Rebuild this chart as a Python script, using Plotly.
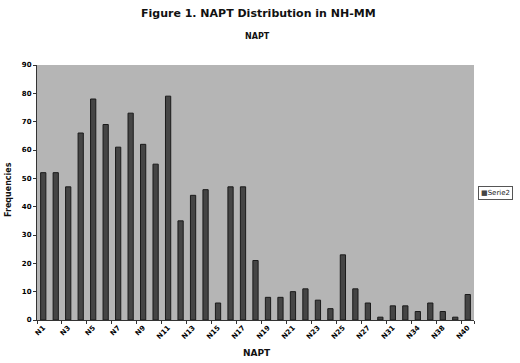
import plotly.graph_objects as go

categories = ["N1","N2","N3","N4","N5","N6","N7","N8","N9","N10","N11","N12","N13","N14","N15",
              "N16","N17","N18","N19","N20","N21","N22","N23","N24","N25","N26","N27","N29","N31",
              "N32","N34","N36","N38","N39","N40"]
values = [52,52,47,66,78,69,61,73,62,55,79,35,44,46,6,
          47,47,21,8,8,10,11,7,4,23,11,6,1,5,
          5,3,6,3,1,9]
tick_labels = categories[::2]
y_ticks = list(range(0, 91, 10))
series_name = "Serie2"

FONT = "DejaVu Sans, Arial, sans-serif"
L, R, T, B = 37, 46, 65, 43
PW, PH = 520 - L - R, 363 - T - B

def px_x(x):
    return (x - L) / PW

def px_y(y):
    return (363 - B - y) / PH

fig = go.Figure()
fig.add_trace(go.Bar(
    x=categories, y=values, name=series_name,
    marker=dict(color="#454545", line=dict(color="#1a1a1a", width=1)),
    showlegend=False,
))

fig.update_layout(
    width=520, height=363,
    margin=dict(l=L, r=R, t=T, b=B, autoexpand=False),
    paper_bgcolor="white",
    plot_bgcolor="#b5b5b5",
    bargap=0.58,
    showlegend=False,
    font=dict(family=FONT, color="#111"),
)
fig.add_annotation(text="<b>Figure 1. NAPT Distribution in NH-MM</b>", xref="paper", yref="paper",
                   x=px_x(258), y=px_y(13), showarrow=False, font=dict(size=11, family=FONT),
                   yanchor="middle")
fig.add_annotation(text="<b>NAPT</b>", xref="paper", yref="paper",
                   x=px_x(257), y=px_y(37), showarrow=False, font=dict(size=8, family=FONT),
                   yanchor="middle")
fig.add_annotation(text="<b>NAPT</b>", xref="paper", yref="paper",
                   x=px_x(257), y=px_y(353), showarrow=False, font=dict(size=9, family=FONT),
                   yanchor="middle")
fig.add_annotation(text="<b>Frequencies</b>", xref="paper", yref="paper",
                   x=px_x(8), y=px_y(190), showarrow=False, textangle=-90,
                   font=dict(size=8, family=FONT), xanchor="center", yanchor="middle")
# legend box
fig.add_annotation(text="<span style='color:#454545'>■</span>" + series_name, xref="paper", yref="paper",
                   x=px_x(478), y=px_y(193), showarrow=False, xanchor="left", yanchor="middle",
                   font=dict(size=7, family=FONT, color="#222"),
                   bordercolor="#555", borderwidth=1, borderpad=2, bgcolor="white")

fig.update_xaxes(
    type="category", tickmode="array", tickvals=tick_labels, ticktext=tick_labels,
    tickangle=-45, tickfont=dict(size=7, family=FONT, color="#000", weight="bold"),
    ticks="outside", ticklen=3, tickson="boundaries", tickcolor="#333",
    showline=True, linecolor="#333", linewidth=1, showgrid=False, mirror=False,
    automargin=False,
)
fig.update_yaxes(
    range=[0, 90], tickmode="array", tickvals=y_ticks,
    tickfont=dict(size=7, family=FONT, color="#000", weight="bold"),
    ticks="outside", ticklen=3, tickcolor="#333",
    showline=True, linecolor="#333", linewidth=1, showgrid=False, zeroline=False,
    automargin=False,
)

fig.write_html("out.html", config={"displayModeBar": False},
               post_script="document.body.style.margin='0';document.body.style.overflow='hidden';")
